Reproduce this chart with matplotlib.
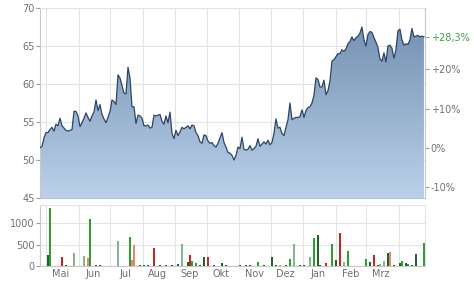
import matplotlib
matplotlib.use("Agg")
import matplotlib.dates as mdates
import matplotlib.pyplot as plt
import numpy as np
import pandas as pd
from matplotlib.colors import LinearSegmentedColormap

# closing prices, sampled evenly from start to end
start, end = "2023-04-25", "2024-04-25"
price = [
    51.6, 51.8, 52.9, 53.6, 53.6, 54.0, 54.3, 53.8, 54.7, 54.5,
    55.5, 54.5, 54.2, 53.9, 53.8, 53.9, 54.0, 56.4, 56.4, 55.8,
    54.4, 54.9, 55.5, 56.2, 55.6, 55.1, 55.8, 56.3, 57.9, 56.5,
    57.3, 56.0, 55.4, 54.9, 55.6, 56.4, 57.9, 57.7, 57.3, 61.2,
    60.8, 59.8, 58.8, 58.7, 62.2, 60.8, 57.0, 57.0, 54.8, 55.9,
    55.8, 55.5, 54.5, 54.5, 54.6, 54.2, 54.3, 55.9, 55.8, 55.9,
    56.0, 55.1, 54.7, 55.8, 54.9, 56.3, 53.5, 52.8, 53.9, 53.2,
    53.7, 54.3, 54.1, 54.3, 54.5, 54.1, 54.6, 54.5, 53.6, 53.2,
    52.4, 52.2, 53.3, 53.2, 52.5, 52.2, 52.3, 51.9, 51.7, 52.2,
    52.9, 53.6, 52.3, 51.7, 51.0, 50.9, 50.6, 50.0, 50.6, 51.7,
    51.5, 53.0, 51.4, 51.3, 51.4, 51.9, 51.3, 51.5, 51.8, 52.8,
    51.8, 52.1, 52.4, 52.1, 52.6, 52.0, 52.3, 53.5, 55.4, 54.2,
    54.3, 53.5, 53.2, 54.3, 55.3, 57.5, 55.3, 55.5, 55.6, 55.6,
    55.7, 56.6, 55.6, 56.5, 56.9, 57.0, 57.5, 58.5, 60.8, 60.6,
    59.6, 59.6, 60.5, 58.6, 59.1, 60.4, 63.0, 63.2, 63.6, 64.0,
    64.0, 64.5, 64.3, 64.6, 65.3, 65.6, 66.2, 65.7, 66.1, 66.3,
    66.7, 67.5, 65.8, 65.0, 66.5, 66.9, 66.8, 66.1, 65.5, 64.8,
    63.3, 63.0, 64.1, 62.9, 65.0, 65.1, 64.7, 63.4, 64.5, 67.0,
    67.2, 65.8, 65.1, 65.3, 65.2, 65.8, 67.3, 66.2, 66.3, 66.4,
    66.2, 66.3, 66.2,
]

# volume bars: sample index, value, colour code
vol_idx = [4, 5, 11, 13, 17, 22, 24, 25, 28, 30,
           39, 45, 46, 47, 50, 52, 54, 57,
           60, 63, 66, 69, 71, 74, 75, 76, 78, 80, 82, 84, 87, 91, 93, 100, 103,
           105, 109, 112, 116, 118, 120, 123, 125, 127, 130, 132, 135, 137, 139,
           140, 143, 146, 148, 150, 152, 154, 160, 163, 165, 167, 169, 170, 172,
           174, 175, 177, 180, 181, 183, 184, 186, 188, 192]
vol_val = [256, 1356, 216, 20, 310, 232, 193, 1090, 20, 20,
           581, 667, 130, 488, 30, 30, 30, 411,
           20, 15, 30, 40, 504, 100, 256, 120, 60, 20, 202, 216, 30, 70, 20, 30, 15,
           15, 85, 15, 216, 30, 30, 20, 163, 504, 15, 20, 209, 643, 721,
           30, 63, 504, 140, 775, 100, 356, 10, 155, 100, 256, 30, 40, 120,
           295, 333, 20, 80, 120, 80, 40, 15, 279, 527]
vol_col = ["d", "g", "r", "d", "l", "l", "s", "g", "d", "d",
           "l", "g", "s", "s", "d", "d", "d", "r",
           "d", "d", "d", "d", "l", "d", "r", "g", "g", "d", "d", "r", "d", "d", "d", "d", "d",
           "d", "g", "d", "d", "d", "l", "d", "g", "l", "d", "d", "l", "g", "d",
           "d", "r", "g", "d", "r", "l", "g", "d", "g", "d", "r", "d", "l", "l",
           "d", "s", "d", "d", "g", "d", "g", "d", "d", "g"]

month_names = ["Jan", "Feb", "Mrz", "Apr", "Mai", "Jun", "Jul", "Aug", "Sep", "Okt", "Nov", "Dez"]
palette = {"g": "#2f9e32", "d": "#1d6526", "l": "#86b48e", "r": "#c92424", "s": "#dd8a6e"}

dates = pd.date_range(start, end, periods=len(price))
price = np.array(price)
base = price[0]
last_pct = (price[-1] / base - 1) * 100

grid_c = "#e3e3e3"
text_c = "#707070"
plt.rcParams["font.family"] = "DejaVu Sans"
plt.rcParams["font.size"] = 7

fig = plt.figure(figsize=(4.74, 2.85), dpi=100)
ax = fig.add_axes([40 / 474, 1 - 198 / 285, 385 / 474, 190 / 285])
axv = fig.add_axes([40 / 474, 1 - 266 / 285, 385 / 474, 61 / 285], sharex=ax)

# price area with vertical gradient
fill = ax.fill_between(dates, price, 45, color="none", lw=0)
cmap = LinearSegmentedColormap.from_list("fade", ["#bad1e8", "#7591b3"])
grad = np.linspace(0, 1, 256).reshape(-1, 1)
x0, x1 = mdates.date2num(dates[0]), mdates.date2num(dates[-1])
img = ax.imshow(grad, aspect="auto", cmap=cmap, origin="lower",
                extent=[x0, x1, 45, 68], zorder=1)
img.set_clip_path(fill.get_paths()[0], transform=ax.transData)
ax.plot(dates, price, color="#2b4566", lw=0.9, zorder=3)

ax.set_ylim(45, 70)
ax.set_yticks([45, 50, 55, 60, 65, 70])
ax.set_xlim(dates[0], dates[-1] + pd.Timedelta(days=1))

# volume
bar_dates = dates[vol_idx]
axv.bar(bar_dates, vol_val, width=1.3, color=[palette[c] for c in vol_col], zorder=3)
axv.set_ylim(0, 1420)
axv.set_yticks([0, 500, 1000])

for a in (ax, axv):
    a.set_facecolor("white")
    a.grid(True, which="major", color=grid_c, lw=0.8, zorder=0)
    a.set_axisbelow(True)
    for side in ("top", "right"):
        a.spines[side].set_color(grid_c)
    for side in ("left", "bottom"):
        a.spines[side].set_color("#c8c8c8")
    a.tick_params(axis="y", colors="#9a9a9a", labelcolor=text_c, length=3, width=0.8, pad=1)
    a.xaxis.set_major_locator(mdates.MonthLocator())
    a.tick_params(axis="x", which="both", length=0, colors=text_c)

ax.spines["bottom"].set_color("#b0c4da")
ax.tick_params(axis="x", labelbottom=False, which="both")
axv.xaxis.set_major_formatter(plt.NullFormatter())
label_dates = pd.date_range("2023-05-01", "2024-03-01", freq="MS") + pd.Timedelta(days=14)
axv.set_xticks(label_dates, minor=True)
axv.set_xticklabels([month_names[d.month - 1] for d in label_dates], minor=True)
axv.tick_params(axis="x", which="minor", pad=2)

# percent scale on the right
axp = ax.twinx()
axp.set_ylim((45 / base - 1) * 100, (70 / base - 1) * 100)
pct_ticks = [-10, 0, 10, 20, last_pct]
axp.set_yticks(pct_ticks)
axp.set_yticklabels(["-10%", "0%", "+10%", "+20%", f"+{last_pct:.1f}%".replace(".", ",")])
axp.tick_params(axis="y", colors="#9a9a9a", labelcolor=text_c, length=3, width=0.8, pad=1)
axp.get_yticklabels()[-1].set_color("#3f9e3f")
for side in ("top", "left", "bottom"):
    axp.spines[side].set_visible(False)
axp.spines["right"].set_color("#c8c8c8")

fig.savefig("out.png", dpi=100, facecolor="white")
